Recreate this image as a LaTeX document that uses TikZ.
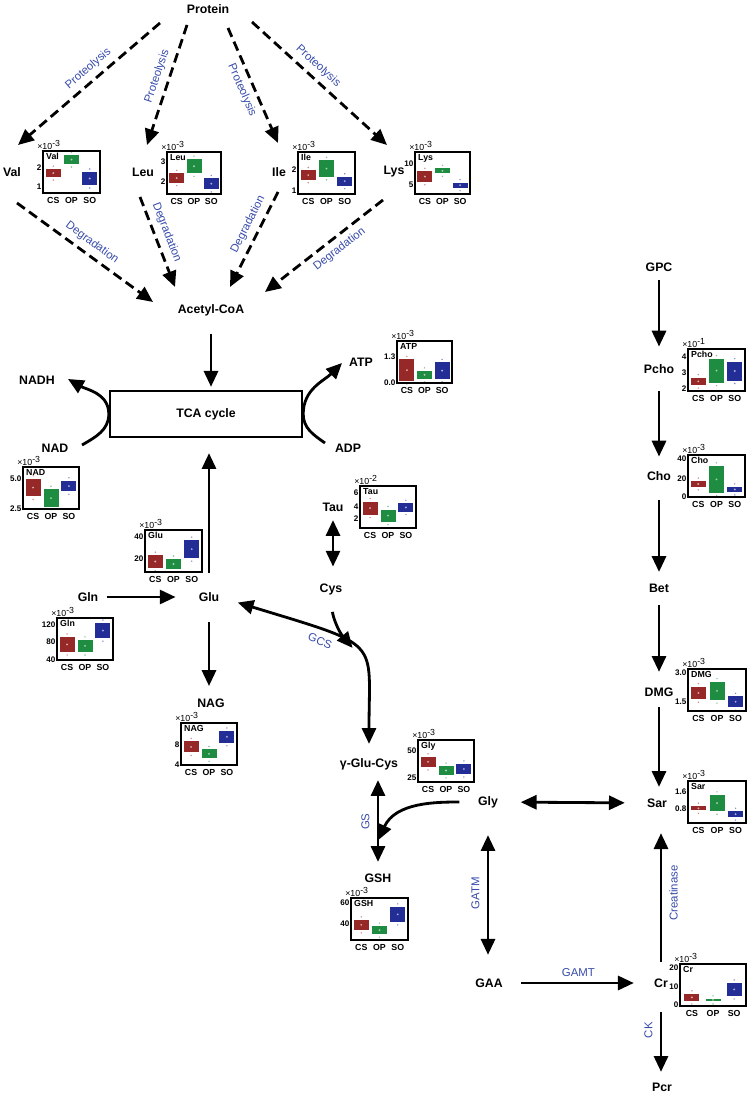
\documentclass[tikz,border=0pt]{standalone}
\usepackage{fontspec}
\setmainfont{Liberation Sans}
\usetikzlibrary{arrows.meta,calc}

\definecolor{csred}{RGB}{150,40,40}
\definecolor{opgreen}{RGB}{30,140,65}
\definecolor{soblue}{RGB}{35,45,150}
\definecolor{enzblue}{RGB}{55,75,170}

% small box plot: position, width, title, exponent, ticks, CS, OP, SO (lo/hi)
\newcommand{\bplot}[8]{%
  \begin{scope}[shift={(#1)}]
    \foreach \cx/\lo/\hi/\col/\grp in {0.18/#6/csred/CS, 0.5/#7/opgreen/OP, 0.82/#8/soblue/SO}{
      \fill[\col] ({\cx*#2-7.5},{42-42*\hi}) rectangle ({\cx*#2+7.5},{42-42*\lo});
      \fill[\col!40!white] ({\cx*#2},{42-21*(\lo+\hi)}) circle (0.6pt);
      \fill[\col!55!white] ({\cx*#2},{42-42*\hi-3}) circle (0.45pt);
      \fill[\col!55!white] ({\cx*#2},{42-42*\lo+3}) circle (0.45pt);
      \node[bpx] at ({\cx*#2},49) {\grp};
    }
    \draw[bpframe] (0,0) rectangle (#2,42);
    \node[bptitle] at (2,1) {#3};
    \node[bpexp] at (-6,-1) {×10\textsuperscript{#4}};
    \foreach \f/\t in {#5} \node[bptick] at (-0.5,{42-42*\f}) {\t};
  \end{scope}}

\begin{document}
\begin{tikzpicture}[
  x=0.02cm, y=-0.02cm,
  >={Triangle[length=9pt,width=8pt]},
  metab/.style={font=\bfseries\fontsize{7}{8}\selectfont, inner sep=0pt},
  enz/.style={font=\fontsize{6.5}{7}\selectfont, text=enzblue, inner sep=3pt},
  enzv/.style={enz, rotate=90, inner sep=4pt},
  arr/.style={->, line width=1.6pt},
  dbl/.style={<->, line width=1.6pt},
  darr/.style={->, line width=1.6pt, dash pattern=on 5.5pt off 3pt},
  tcabox/.style={draw, line width=1.4pt, minimum width=3.84cm, minimum height=0.92cm,
                 font=\bfseries\fontsize{7}{8}\selectfont},
  bpframe/.style={line width=1.1pt},
  bptitle/.style={anchor=north west, inner sep=0.5pt, font=\bfseries\fontsize{5}{6}\selectfont},
  bptick/.style={anchor=east, inner sep=0.5pt, font=\bfseries\fontsize{4.6}{5}\selectfont},
  bpx/.style={inner sep=0pt, font=\bfseries\fontsize{5}{6}\selectfont},
  bpexp/.style={anchor=south west, inner sep=0pt, font=\fontsize{5}{6}\selectfont},
]
  \useasboundingbox (0,0) rectangle (750,1094);

  %% Metabolites
  \node[metab] (prot) at (208,9)   {Protein};
  \node[metab] (val)  at (12,172)  {Val};
  \node[metab] (leu)  at (143,172) {Leu};
  \node[metab] (ile)  at (279,172) {Ile};
  \node[metab] (lys)  at (394,172) {Lys};
  \node[metab] (acoa) at (211,310) {Acetyl-CoA};
  \node[tcabox] (tca) at (206,414) {TCA cycle};
  \node[metab] (nadh) at (37,380)  {NADH};
  \node[metab] (nad)  at (55,448)  {NAD};
  \node[metab] (atp)  at (361,362) {ATP};
  \node[metab] (adp)  at (348,448) {ADP};
  \node[metab] (tau)  at (333,507) {Tau};
  \node[metab] (cys)  at (331,589) {Cys};
  \node[metab] (gln)  at (88,597)  {Gln};
  \node[metab] (glu)  at (209,597) {Glu};
  \node[metab] (nag)  at (211,703) {NAG};
  \node[metab] (ggc)  at (369,764) {γ-Glu-Cys};
  \node[metab] (gly)  at (488,802) {Gly};
  \node[metab] (gsh)  at (378,878) {GSH};
  \node[metab] (gaa)  at (489,983) {GAA};
  \node[metab] (cr)   at (661,983) {Cr};
  \node[metab] (pcr)  at (662,1087) {Pcr};
  \node[metab] (gpc)  at (659,267) {GPC};
  \node[metab] (pcho) at (659,369) {Pcho};
  \node[metab] (cho)  at (659,476) {Cho};
  \node[metab] (bet)  at (659,588) {Bet};
  \node[metab] (dmg)  at (659,692) {DMG};
  \node[metab] (sar)  at (657,803) {Sar};

  %% Box plots
  \bplot{43,151}{57}{Val}{-3}{0.6/2,0.14/1}{0.38/0.57}{0.69/0.9}{0.19/0.5}
  \bplot{167,152}{54}{Leu}{-3}{0.78/3,0.29/2}{0.27/0.49}{0.49/0.83}{0.12/0.37}
  \bplot{298,152}{57}{Ile}{-3}{0.58/2,0.07/1}{0.34/0.56}{0.41/0.8}{0.2/0.41}
  \bplot{415,152}{55}{Lys}{-3}{0.73/10,0.22/5}{0.29/0.54}{0.49/0.61}{0.15/0.27}
  \bplot{397,341}{55}{ATP}{-3}{0.63/1.3,0/0.0}{0.05/0.56}{0.1/0.29}{0.1/0.49}
  \bplot{23,467}{56}{NAD}{-3}{0.72/5.0,0/2.5}{0.3/0.72}{0.05/0.47}{0.42/0.67}
  \bplot{360,486}{56}{Tau}{-2}{0.85/6,0.51/4,0.22/2}{0.32/0.63}{0.15/0.44}{0.39/0.59}
  \bplot{145,530}{57}{Glu}{-3}{0.83/40,0.31/20}{0.1/0.4}{0.07/0.31}{0.33/0.76}
  \bplot{57,618}{56}{Gln}{-3}{0.83/120,0.43/80,0/40}{0.19/0.55}{0.19/0.48}{0.52/0.88}
  \bplot{181,723}{56}{NAG}{-3}{0.49/8,0/4}{0.3/0.56}{0.16/0.37}{0.53/0.81}
  \bplot{418,740}{56}{Gly}{-3}{0.74/50,0.1/25}{0.36/0.6}{0.17/0.38}{0.19/0.43}
  \bplot{351,898}{57}{GSH}{-3}{0.88/60,0.38/40}{0.24/0.48}{0.14/0.33}{0.43/0.79}
  \bplot{688,349}{57}{Pcho}{-1}{0.82/4,0.43/3,0.05/2}{0.14/0.32}{0.2/0.77}{0.25/0.7}
  \bplot{688,455}{57}{Cho}{-3}{0.9/40,0.43/20,0/0}{0.24/0.38}{0.1/0.74}{0.12/0.24}
  \bplot{688,669}{58}{DMG}{-3}{0.9/3.0,0.23/1.5}{0.28/0.58}{0.26/0.7}{0.09/0.35}
  \bplot{688,781}{58}{Sar}{-3}{0.74/1.6,0.35/0.8}{0.3/0.4}{0.28/0.67}{0.14/0.28}
  \bplot{680,964}{66}{Cr}{-3}{0.9/20,0.45/10,0.02/0}{0.12/0.29}{0.12/0.17}{0.24/0.55}

  %% Arrows -- proteolysis and degradation
  \draw[darr] ($(prot)+(-48,14)$) -- node[enz, pos=0.45, above, sloped] {Proteolysis} ($(val)+(6,-27)$);
  \draw[darr] ($(prot)+(-21,16)$) -- node[enz, pos=0.46, above, sloped] {Proteolysis} ($(leu)+(4,-27)$);
  \draw[darr] ($(prot)+(20,19)$)  -- node[enz, pos=0.5, below, sloped] {Proteolysis} ($(ile)+(-1,-29)$);
  \draw[darr] ($(prot)+(44,13)$)  -- node[enz, pos=0.43, above, sloped] {Proteolysis} ($(lys)+(-7,-27)$);
  \draw[darr] ($(val)+(5,31)$)    -- node[enz, pos=0.5, above, sloped] {Degradation} ($(acoa)+(-58,-8)$);
  \draw[darr] ($(leu)+(-3,25)$)   -- node[enz, pos=0.44, above, sloped] {Degradation} ($(acoa)+(-36,-23)$);
  \draw[darr] ($(ile)+(-1,20)$)   -- node[enz, pos=0.4, above, sloped] {Degradation} ($(acoa)+(19,-23)$);
  \draw[darr] ($(lys)+(-11,28)$)  -- node[enz, pos=0.43, below, sloped] {Degradation} ($(acoa)+(54,-18)$);

  %% Arrows -- TCA cycle
  \draw[arr, shorten <=10pt, shorten >=1.7pt] (acoa.south) -- (acoa.south |- tca.north);
  \draw[arr] ($(nad)+(27,-3)$) to[out=30,in=-90] (tca.west) to[out=90,in=-30] ($(nadh)+(31,-1)$);
  \draw[arr] ($(adp)+(-23,-5)$) to[out=145,in=-90] (tca.east) to[out=90,in=-135] ($(atp)+(-19,1)$);
  \draw[arr, shorten <=11pt, shorten >=8.5pt] (glu.north) -- (glu.north |- tca.south);

  %% Arrows -- glutamate and glutathione
  \draw[arr, shorten <=4.5pt, shorten >=13pt] (gln.east) -- (glu.west);
  \draw[arr, shorten <=11.7pt, shorten >=7pt] (glu.south) -- (glu.south |- nag.north);
  \draw[dbl, shorten <=4.8pt, shorten >=9.4pt] (tau.south) -- (tau.south |- cys.north);
  \draw[dbl, shorten <=10.8pt, shorten >=8pt] (glu.east)
    to[out=-17, in=90, out looseness=2, in looseness=1.4]
    node[enz, pos=0.3, below, sloped] {GCS} coordinate[pos=0.47] (gcsjoin) (ggc.north);
  \draw[arr, shorten <=9.7pt] (cys.south) to[out=-85,in=130] (gcsjoin);
  \draw[dbl, shorten <=5.7pt, shorten >=6.5pt] (gsh.north |- ggc.south)
    -- node[enzv, midway, anchor=south] {GS} coordinate[pos=0.68] (gsjoin) (gsh.north);
  \draw[arr, shorten <=10.5pt] (gly.west) to[out=180,in=65] (gsjoin);

  %% Arrows -- glycine, creatine and choline
  \draw[dbl, shorten <=12.8pt, shorten >=12.5pt] (gly.east) -- (sar.west);
  \draw[dbl, shorten <=15.4pt, shorten >=13.4pt] (gly.south)
    -- node[enzv, midway, anchor=south] {GATM} (gly.south |- gaa.north);
  \draw[arr, shorten <=10.2pt, shorten >=11.4pt] (gaa.east) -- node[enz, midway, above] {GAMT} (cr.west);
  \draw[arr, shorten <=9.4pt, shorten >=14.5pt] (cr.north)
    -- node[enzv, midway, anchor=north] {Creatinase} (cr.north |- sar.south);
  \draw[arr, shorten <=14pt, shorten >=6pt] (cr.south)
    -- node[enzv, pos=0.45, anchor=south] {CK} (cr.south |- pcr.north);
  \draw[arr, shorten <=4.8pt, shorten >=10pt] (gpc) -- (pcho);
  \draw[arr, shorten <=10pt, shorten >=8.3pt] (pcho) -- (cho);
  \draw[arr, shorten <=11pt, shorten >=6.5pt] (cho) -- (bet);
  \draw[arr, shorten <=7pt, shorten >=8.8pt] (bet) -- (dmg);
  \draw[arr, shorten <=6pt, shorten >=6.5pt] (dmg.south) -- (dmg.south |- sar.north);
\end{tikzpicture}
\end{document}
